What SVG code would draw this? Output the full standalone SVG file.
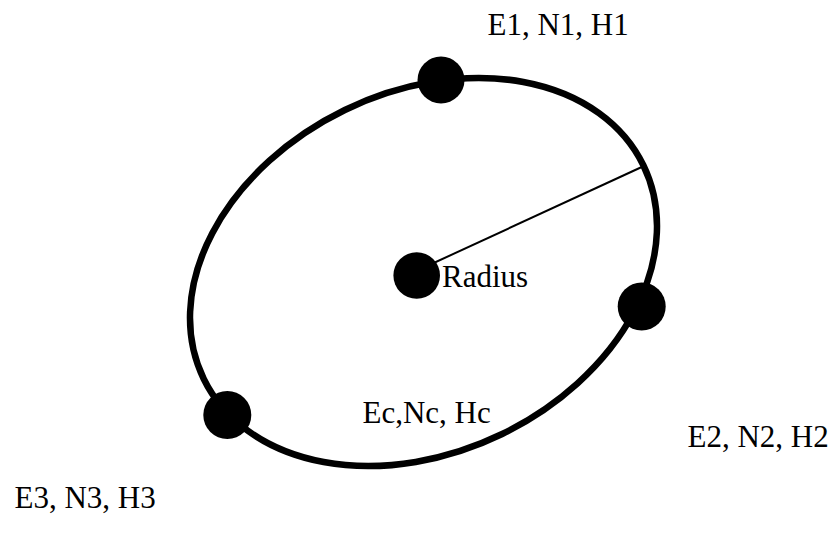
<svg xmlns="http://www.w3.org/2000/svg" width="831" height="543" viewBox="0 0 831 543">
<style>
.lbl{font-family:"Liberation Serif","Times New Roman",serif;font-size:31px;fill:#000}
.node{fill:#000}
</style>
<rect width="831" height="543" fill="#fff"/>
<g id="connectors">
<ellipse id="orbit" cx="423.5" cy="272" rx="244.4" ry="180.1" transform="rotate(-25.9 423.5 272)" fill="none" stroke="#000" stroke-width="6.5"/>
<line id="radius-line" x1="425" y1="267" x2="645" y2="165.5" stroke="#000" stroke-width="2"/>
</g>
<g id="node-p1"><circle class="node" cx="441" cy="80" r="23.5"/></g>
<g id="node-p2"><circle class="node" cx="641.7" cy="306.5" r="24"/></g>
<g id="node-p3"><circle class="node" cx="227.3" cy="415" r="24"/></g>
<g id="node-center"><circle class="node" cx="416.7" cy="275.5" r="23.3"/></g>
<g id="labels">
<text class="lbl" x="487.5" y="35">E1, N1, H1</text>
<text class="lbl" x="442" y="287">Radius</text>
<text class="lbl" x="362.5" y="423">Ec,Nc, Hc</text>
<text class="lbl" x="687.5" y="447">E2, N2, H2</text>
<text class="lbl" x="14.5" y="508">E3, N3, H3</text>
</g>
</svg>
